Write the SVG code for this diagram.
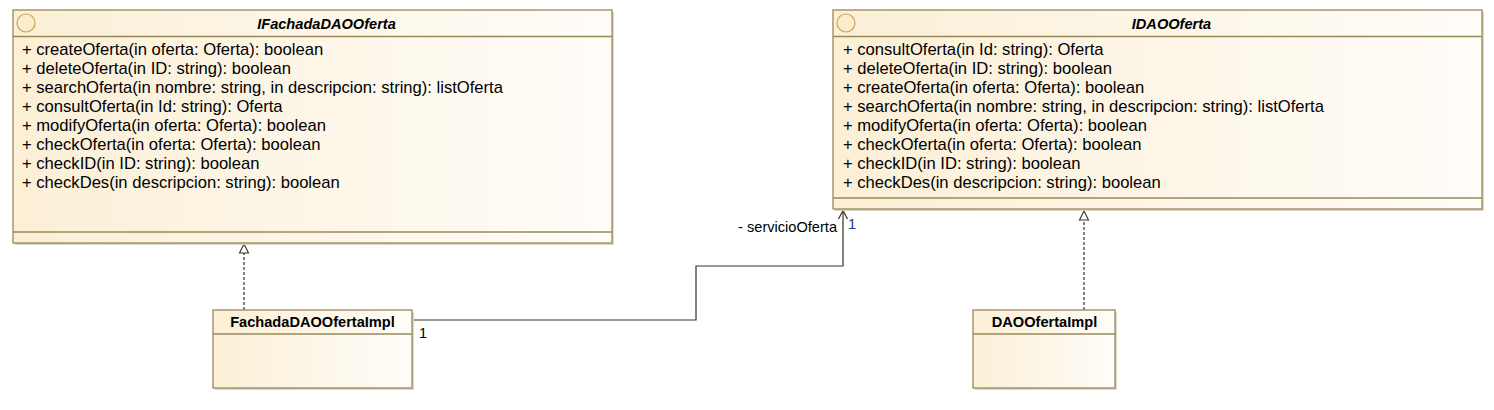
<svg xmlns="http://www.w3.org/2000/svg" width="1494" height="410" viewBox="0 0 1494 410">
<defs>
<linearGradient id="g" x1="0" y1="0" x2="1" y2="0">
<stop offset="0" stop-color="#fbefd6"/>
<stop offset="1" stop-color="#fffdf9"/>
</linearGradient>
</defs>
<style>
.box{fill:url(#g);stroke:#9a8858;stroke-width:1.3}
.shadow{fill:#dcd7cb}
.sep{stroke:#9a8858;stroke-width:1.3}
.t{font-family:"Liberation Sans",Arial,sans-serif;font-size:16.6px;fill:#000}
.title{font-family:"Liberation Sans",Arial,sans-serif;font-size:14.6px;font-weight:bold;fill:#000}
.it{font-style:italic}
.circ{fill:#fbeccb;stroke:#c9a45a;stroke-width:1.2}
.line{fill:none;stroke:#3a3020;stroke-width:1.2}
.dash{fill:none;stroke:#3a3020;stroke-width:1.2;stroke-dasharray:3,2}
.head{fill:#fff;stroke:#3a3020;stroke-width:1.1}
.lbl{font-family:"Liberation Sans",Arial,sans-serif;font-size:14.6px;fill:#000}
.blue{fill:#1a3c8c}
</style>
<g id="connectors">
<path class="dash" d="M244 310 V253"/>
<path class="head" d="M244 244 L239.5 253 H248.5 Z"/>
<path class="dash" d="M1084 310 V220"/>
<path class="head" d="M1084 211 L1079.5 220 H1088.5 Z"/>
<path class="line" d="M412 320 H696 V266 H843 V210"/>
<path class="line" d="M838.5 219 L843 210.5 L847.5 219"/>
<text class="lbl" x="419" y="338">1</text>
<text class="lbl" x="837" y="232" text-anchor="end">- servicioOferta</text>
<text class="lbl blue" x="848" y="229">1</text>
</g>
<g id="IFachadaDAOOferta">
<rect class="shadow" x="15" y="12" width="599" height="233"/>
<rect class="box" x="13" y="10" width="599" height="233"/>
<line class="sep" x1="13" y1="36.5" x2="612" y2="36.5"/>
<line class="sep" x1="13" y1="232" x2="612" y2="232"/>
<circle class="circ" cx="26" cy="23" r="9"/>
<text class="title it" x="326.5" y="29" text-anchor="middle">IFachadaDAOOferta</text>
<text class="t" x="22" y="55">+ createOferta(in oferta: Oferta): boolean</text>
<text class="t" x="22" y="74">+ deleteOferta(in ID: string): boolean</text>
<text class="t" x="22" y="93">+ searchOferta(in nombre: string, in descripcion: string): listOferta</text>
<text class="t" x="22" y="112">+ consultOferta(in Id: string): Oferta</text>
<text class="t" x="22" y="131">+ modifyOferta(in oferta: Oferta): boolean</text>
<text class="t" x="22" y="150">+ checkOferta(in oferta: Oferta): boolean</text>
<text class="t" x="22" y="169">+ checkID(in ID: string): boolean</text>
<text class="t" x="22" y="188">+ checkDes(in descripcion: string): boolean</text>
</g>
<g id="IDAOOferta">
<rect class="shadow" x="835" y="12" width="649" height="199"/>
<rect class="box" x="833" y="10" width="649" height="199"/>
<line class="sep" x1="833" y1="36.5" x2="1482" y2="36.5"/>
<line class="sep" x1="833" y1="198" x2="1482" y2="198"/>
<circle class="circ" cx="846" cy="23" r="9"/>
<text class="title it" x="1171.5" y="29" text-anchor="middle">IDAOOferta</text>
<text class="t" x="843" y="55">+ consultOferta(in Id: string): Oferta</text>
<text class="t" x="843" y="74">+ deleteOferta(in ID: string): boolean</text>
<text class="t" x="843" y="93">+ createOferta(in oferta: Oferta): boolean</text>
<text class="t" x="843" y="112">+ searchOferta(in nombre: string, in descripcion: string): listOferta</text>
<text class="t" x="843" y="131">+ modifyOferta(in oferta: Oferta): boolean</text>
<text class="t" x="843" y="150">+ checkOferta(in oferta: Oferta): boolean</text>
<text class="t" x="843" y="169">+ checkID(in ID: string): boolean</text>
<text class="t" x="843" y="188">+ checkDes(in descripcion: string): boolean</text>
</g>
<g id="FachadaDAOOfertaImpl">
<rect class="shadow" x="215" y="312" width="199" height="78"/>
<rect class="box" x="213" y="310" width="199" height="78"/>
<line class="sep" x1="213" y1="334" x2="412" y2="334"/>
<text class="title" x="312.5" y="327" text-anchor="middle">FachadaDAOOfertaImpl</text>
</g>
<g id="DAOOfertaImpl">
<rect class="shadow" x="975" y="312" width="142" height="78"/>
<rect class="box" x="973" y="310" width="142" height="78"/>
<line class="sep" x1="973" y1="334" x2="1115" y2="334"/>
<text class="title" x="1044.5" y="327" text-anchor="middle">DAOOfertaImpl</text>
</g>
</svg>
